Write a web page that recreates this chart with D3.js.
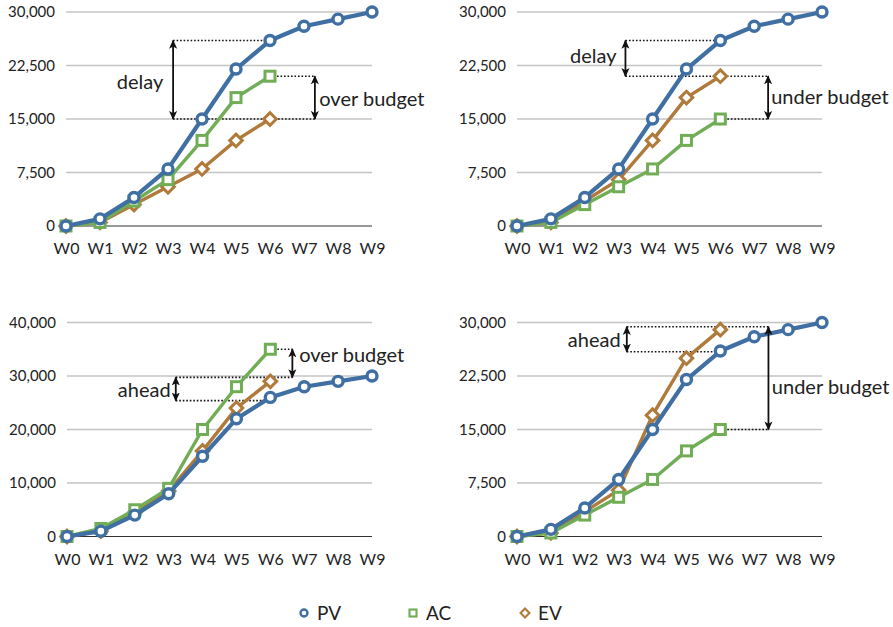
<!DOCTYPE html>
<html>
<head>
<meta charset="utf-8">
<script src="https://cdn.jsdelivr.net/npm/d3@7"></script>
<style>
  html, body { margin: 0; padding: 0; background: #fff; }
  svg { display: block; font-family: Lato, "Open Sans", sans-serif; }
</style>
</head>
<body>
<svg id="chart" width="893" height="627"></svg>
<script>
// ---------- DATA ----------
const categories = ["W0","W1","W2","W3","W4","W5","W6","W7","W8","W9"];
const seriesNames = ["PV","AC","EV"];

const pv  = [0, 1000, 4000, 8000, 15000, 22000, 26000, 28000, 29000, 30000];

// Panel 1: delay, over budget
const ac1 = [0, 500, 3500, 6500, 12000, 18000, 21000];
const ev1 = [0, 500, 3000, 5500, 8000, 12000, 15000];
// Panel 2: delay, under budget
const ac2 = [0, 500, 3000, 5500, 8000, 12000, 15000];
const ev2 = [0, 500, 3500, 6500, 12000, 18000, 21000];
// Panel 3: ahead, over budget
const ac3 = [0, 1500, 5000, 9000, 20000, 28000, 35000];
const ev3 = [0, 1000, 4500, 8500, 16000, 24000, 29000];
// Panel 4: ahead, under budget
const ac4 = [0, 500, 3000, 5500, 8000, 12000, 15000];
const ev4 = [0, 500, 3500, 6500, 17000, 25000, 29000];

const ticks30 = [0, 7500, 15000, 22500, 30000];
const ticks40 = [0, 10000, 20000, 30000, 40000];

// annotation labels
const labels1 = ["delay", "over budget"];
const labels2 = ["delay", "under budget"];
const labels3 = ["ahead", "over budget"];
const labels4 = ["ahead", "under budget"];

// annotation values (category-index position, value range)
const arrows1 = [[3.15, 26000, 15000], [7.32, 21000, 15000]];
const guides1 = [[26000, 3.15, 6], [15000, 3.15, 7.32], [21000, 6, 7.32]];
const arrows2 = [[3.2, 26000, 21000], [7.41, 21000, 15000]];
const guides2 = [[26000, 3.2, 6], [21000, 3.2, 7.41], [15000, 6, 7.41]];
const arrows3 = [[3.21, 29750, 25400], [6.65, 35000, 29750]];
const guides3 = [[29750, 3.21, 6.65], [25400, 3.21, 6], [35000, 6, 6.65]];
const arrows4 = [[3.24, 29400, 25900], [7.42, 29400, 15000]];
const guides4 = [[29400, 3.24, 7.42], [25900, 3.24, 6], [15000, 6, 7.42]];
// label anchors: [index, value]
const labelPos1 = [[2.18, 20200], [7.45, 17800]];
const labelPos2 = [[2.25, 23800], [7.5, 18100]];
const labelPos3 = [[2.28, 27400], [6.85, 33950]];
const labelPos4 = [[2.28, 27600], [7.52, 21000]];

// ---------- STYLE ----------
const colors = { PV: "#3f6fa3", AC: "#70ad55", EV: "#b07a3a" };

const svg = d3.select("#chart");

const defs = svg.append("defs");
defs.append("marker").attr("id", "ah")
  .attr("viewBox", "0 0 10 10").attr("refX", 9).attr("refY", 5)
  .attr("markerWidth", 9).attr("markerHeight", 9).attr("markerUnits", "userSpaceOnUse")
  .attr("orient", "auto-start-reverse")
  .append("path").attr("d", "M0,0.5 L10,5 L0,9.5 L2.5,5 Z").attr("fill", "#111");

const panels = [
  { x0: 66,  x1: 372, y0: 226,   y1: 12,    max: 30000, ticks: ticks30, ac: ac1, ev: ev1, arrows: arrows1, guides: guides1, labels: labels1, lpos: labelPos1, anchors: ["middle","start"] },
  { x0: 517, x1: 822, y0: 226,   y1: 12,    max: 30000, ticks: ticks30, ac: ac2, ev: ev2, arrows: arrows2, guides: guides2, labels: labels2, lpos: labelPos2, anchors: ["middle","start"] },
  { x0: 67,  x1: 372, y0: 536.5, y1: 322.5, max: 40000, ticks: ticks40, ac: ac3, ev: ev3, arrows: arrows3, guides: guides3, labels: labels3, lpos: labelPos3, anchors: ["middle","start"] },
  { x0: 517, x1: 822, y0: 536.5, y1: 322.5, max: 30000, ticks: ticks30, ac: ac4, ev: ev4, arrows: arrows4, guides: guides4, labels: labels4, lpos: labelPos4, anchors: ["middle","start"] }
];

function drawMarker(g, type, x, y, color, scale) {
  const s = scale || 1;
  if (type === "PV") {
    g.append("circle").attr("cx", x).attr("cy", y).attr("r", 5 * s)
      .attr("fill", "#fff").attr("stroke", color).attr("stroke-width", 3.4 * s);
  } else if (type === "AC") {
    const h = 5 * s;
    g.append("rect").attr("x", x - h).attr("y", y - h).attr("width", 2 * h).attr("height", 2 * h)
      .attr("fill", "#fff").attr("stroke", color).attr("stroke-width", 3 * s);
  } else {
    const h = 6.3 * s;
    g.append("path").attr("d", `M${x},${y - h}L${x + h},${y}L${x},${y + h}L${x - h},${y}Z`)
      .attr("fill", "#fff").attr("stroke", color).attr("stroke-width", 3 * s);
  }
}

panels.forEach(p => {
  const g = svg.append("g");
  const x = d3.scaleLinear().domain([0, categories.length - 1]).range([p.x0, p.x1]);
  const y = d3.scaleLinear().domain([0, p.max]).range([p.y0, p.y1]);

  // gridlines
  g.selectAll("line.grid").data(p.ticks).enter().append("line")
    .attr("x1", p.x0).attr("x2", p.x1)
    .attr("y1", d => y(d)).attr("y2", d => y(d))
    .attr("stroke", d => d === 0 ? "#333" : "#c4c4c4")
    .attr("stroke-width", d => d === 0 ? 1.2 : 1.3);

  // y axis labels
  const yAxis = d3.axisLeft(y).tickValues(p.ticks).tickFormat(d3.format(",")).tickSize(0).tickPadding(0);
  const ya = g.append("g").attr("transform", `translate(${p.x0 - 11},0)`).call(yAxis);
  ya.select(".domain").remove();
  ya.selectAll("text").attr("font-size", 15).attr("fill", "#222").attr("font-family", "Lato, sans-serif");

  // x axis labels
  const xAxis = d3.axisBottom(x).tickValues(d3.range(categories.length)).tickFormat(i => categories[i]).tickSize(0).tickPadding(0);
  const xa = g.append("g").attr("transform", `translate(0,${p.y0 + 17})`).call(xAxis);
  xa.select(".domain").remove();
  xa.selectAll("text").attr("font-size", 16).attr("fill", "#222").attr("font-family", "Lato, sans-serif");

  // annotations: guides
  p.guides.forEach(gd => {
    g.append("line").attr("x1", x(gd[1])).attr("x2", x(gd[2]))
      .attr("y1", y(gd[0])).attr("y2", y(gd[0]))
      .attr("stroke", "#111").attr("stroke-width", 1.6).attr("stroke-dasharray", "1.6,1.9");
  });

  // series lines
  const line = d3.line().x((d, i) => x(i)).y(d => y(d));
  const series = [["EV", p.ev], ["AC", p.ac], ["PV", pv]];
  series.forEach(([name, vals]) => {
    g.append("path").datum(vals).attr("d", line).attr("fill", "none")
      .attr("stroke", colors[name]).attr("stroke-width", name === "PV" ? 4.2 : 3.4)
      .attr("stroke-linejoin", "round");
    vals.forEach((v, i) => drawMarker(g, name, x(i), y(v), colors[name]));
  });

  // arrows
  p.arrows.forEach(a => {
    g.append("line").attr("x1", x(a[0])).attr("x2", x(a[0]))
      .attr("y1", y(a[1])).attr("y2", y(a[2]))
      .attr("stroke", "#111").attr("stroke-width", 1.8)
      .attr("marker-start", "url(#ah)").attr("marker-end", "url(#ah)");
  });

  // labels
  p.labels.forEach((t, i) => {
    g.append("text").attr("x", x(p.lpos[i][0])).attr("y", y(p.lpos[i][1]))
      .attr("dy", "0.35em").attr("text-anchor", p.anchors[i])
      .attr("font-size", 20).attr("fill", "#222").text(t);
  });
});

// legend
const legendX = [304, 413, 525];
const lg = svg.append("g");
seriesNames.forEach((n, i) => {
  drawMarker(lg, n, legendX[i], 613, colors[n], 0.7);
  lg.append("text").attr("x", legendX[i] + 13).attr("y", 613).attr("dy", "0.35em")
    .attr("font-size", 19).attr("fill", "#222").text(n);
});
</script>
</body>
</html>
